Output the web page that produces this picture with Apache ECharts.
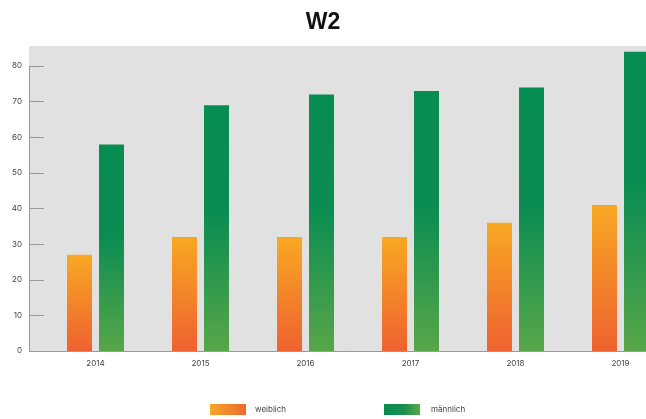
<!DOCTYPE html>
<html>
<head>
<meta charset="utf-8">
<script src="https://cdn.jsdelivr.net/npm/echarts@6/dist/echarts.min.js"></script>
<style>
html,body{margin:0;padding:0;background:#fff;}
#chart{width:646px;height:419px;}
</style>
</head>
<body>
<div id="chart"></div>
<script>
const title = 'W2';
const years = ['2014','2015','2016','2017','2018','2019'];
const seriesNames = ['weiblich','männlich'];
const weiblich = [27, 32, 32, 32, 36, 41];
const maennlich = [58, 69, 72, 73, 74, 84];
const yTicks = [0, 10, 20, 30, 40, 50, 60, 70, 80];

function vGrad(stops){ return new echarts.graphic.LinearGradient(0,0,0,1,stops); }
function hGrad(stops){ return new echarts.graphic.LinearGradient(0,0,1,0,stops); }

const orangeBar = vGrad([{offset:0,color:'#f8a823'},{offset:1,color:'#ee6231'}]);
const greenBar = vGrad([{offset:0,color:'#078c52'},{offset:0.45,color:'#0b8d52'},{offset:1,color:'#58a648'}]);
const orangeLeg = hGrad([{offset:0,color:'#f7a628'},{offset:1,color:'#ec692f'}]);
const greenLeg = hGrad([{offset:0,color:'#0a8a4e'},{offset:0.55,color:'#17904e'},{offset:1,color:'#5ca648'}]);

const chart = echarts.init(document.getElementById('chart'), null, {renderer:'canvas'});
const font = 'Inter, "Noto Sans", sans-serif';
chart.setOption({
  animation: false,
  backgroundColor: '#fff',
  title: {
    text: title, left: 'center', top: 6,
    textStyle: {fontFamily: '"Liberation Sans", Arial, sans-serif', fontWeight: 'bold', fontSize: 23, color: '#111'}
  },
  graphic: [{
    type: 'rect', z: -10, silent: true,
    shape: {x: 29, y: 46, width: 620, height: 305},
    style: {fill: '#e1e1e1'}
  }],
  legend: [{
    data: [{name: seriesNames[0], itemStyle: {color: orangeLeg}}],
    left: 210, top: 404, padding: 0, itemWidth: 36, itemHeight: 11, icon: 'rect',
    textStyle: {fontFamily: font, fontSize: 8, color: '#444', padding: [0,0,0,4]}
  },{
    data: [{name: seriesNames[1], itemStyle: {color: greenLeg}}],
    left: 384, top: 404, padding: 0, itemWidth: 36, itemHeight: 11, icon: 'rect',
    textStyle: {fontFamily: font, fontSize: 8, color: '#444', padding: [0,0,0,6]}
  }],
  grid: {left: 43, width: 630, top: 66, bottom: 68, containLabel: false, outerBoundsMode: 'none'},
  xAxis: {
    type: 'category', data: years,
    axisLine: {show: true, lineStyle: {color: '#9a9a9a', width: 1}},
    axisTick: {show: false},
    axisLabel: {fontFamily: font, fontSize: 8, color: '#444', margin: 9}
  },
  yAxis: {
    type: 'value', min: 0, max: 80, interval: 10, offset: 14,
    axisLine: {show: true, lineStyle: {color: '#9a9a9a', width: 1}},
    axisTick: {show: true, inside: true, length: 15, lineStyle: {color: '#9a9a9a'}, customValues: yTicks},
    axisLabel: {fontFamily: font, fontSize: 8, color: '#444', margin: 7, customValues: yTicks},
    splitLine: {show: false}
  },
  series: [{
    name: seriesNames[0], type: 'bar', data: weiblich, clip: false,
    barWidth: 25, barGap: '28%',
    itemStyle: {color: orangeBar}
  },{
    name: seriesNames[1], type: 'bar', data: maennlich, clip: false,
    barWidth: 25, barGap: '28%',
    itemStyle: {color: greenBar}
  }]
});
</script>
</body>
</html>
